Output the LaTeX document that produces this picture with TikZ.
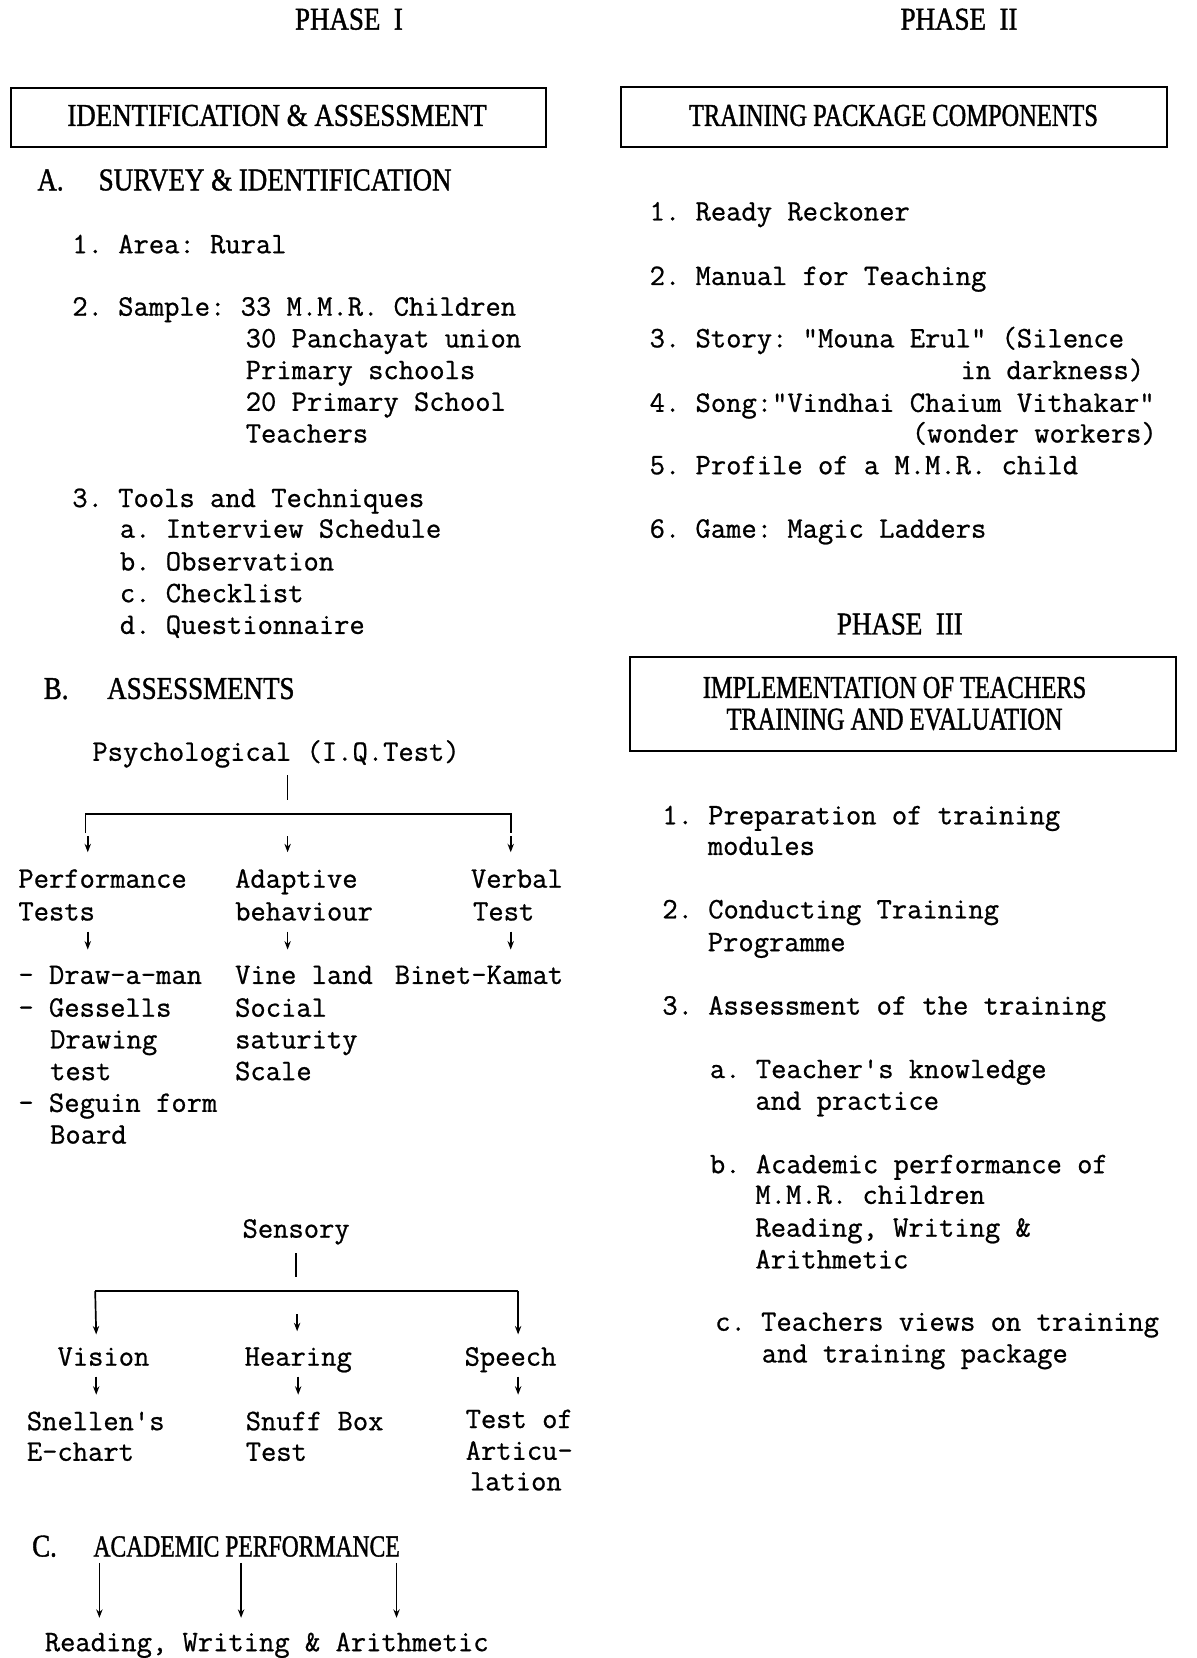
\documentclass[tikz,border=0pt]{standalone}
\usepackage{fontspec}
\usetikzlibrary{arrows.meta}
\newfontfamily\monof[FakeBold=0.8]{Latin Modern Mono}
\newfontfamily\hdf[FakeStretch=0.85,FakeBold=1.2]{Liberation Serif}
\newfontfamily\hdn[FakeStretch=0.77,FakeBold=1.2]{Liberation Serif}
\newcommand\Mt[4]{\node[mono] (#1) at (#2,#3) {#4};}
\newcommand\Hd[4]{\node[hd,anchor=base west] (#1) at (#2,#3) {#4};}
\frenchspacing
\begin{document}
\begin{tikzpicture}[x=0.5pt,y=-0.5pt,
  mono/.style={font=\monof\fontsize{14.05}{15}\selectfont\frenchspacing,inner sep=0pt,anchor=base west},
  hd/.style={font=\hdf\fontsize{15}{15}\selectfont,inner sep=0pt},
  hboxframe/.style={draw,line width=1pt,inner sep=0pt},
  ln/.style={line width=0.8pt},
  arr/.style={line width=0.8pt,-{Stealth[length=4pt,width=3pt]}}]
\useasboundingbox (0,0) rectangle (1132,1568);

% ---------- Headings ----------
\node[hd,anchor=base] (ph1) at (330,28) {PHASE\ \ I};
\node[hd,anchor=base] (ph2) at (907,28) {PHASE\ \ II};
\node[hd,anchor=base] (ph3) at (851,600) {PHASE\ \ III};

\node[hboxframe,minimum width=253pt,minimum height=28pt] (box1) at (263,111) {};
\node[hd,anchor=base] (box1t) at (262,119) {IDENTIFICATION \& ASSESSMENT};
\node[hboxframe,minimum width=258.5pt,minimum height=28.5pt] (box2) at (845.5,110.5) {};
\node[hd,anchor=base,font=\hdn\fontsize{15}{15}\selectfont] (box2t) at (845,119) {TRAINING PACKAGE COMPONENTS};
\node[hboxframe,minimum width=258pt,minimum height=44.5pt] (box3) at (854,665.5) {};
\node[hd,anchor=base,font=\hdn\fontsize{15}{15}\selectfont] (box3t) at (846,660) {IMPLEMENTATION OF TEACHERS};
\node[hd,anchor=base,font=\hdn\fontsize{15}{15}\selectfont] (box3u) at (846,690) {TRAINING AND EVALUATION};

% ---------- Phase I : A ----------
\Hd{ha}{35}{180}{A.}
\Hd{hat}{93}{180}{SURVEY \& IDENTIFICATION}
\Mt{a1}{68}{239.5}{1. Area: Rural}
\Mt{a2}{68}{298.5}{2. Sample: 33 M.M.R. Children}
\Mt{a2b}{232}{328.5}{30 Panchayat union}
\Mt{a2c}{232}{358.5}{Primary schools}
\Mt{a2d}{232}{388.5}{20 Primary School}
\Mt{a2e}{232}{418.5}{Teachers}
\Mt{a3}{68}{479.5}{3. Tools and Techniques}
\Mt{a3a}{113}{508.5}{a. Interview Schedule}
\Mt{a3b}{113}{539.5}{b. Observation}
\Mt{a3c}{113}{569.5}{c. Checklist}
\Mt{a3d}{113}{599.5}{d. Questionnaire}

% ---------- B ----------
\Hd{hb}{41}{661}{B.}
\Hd{hbt}{101}{661}{ASSESSMENTS}
\Mt{psy}{87}{719.5}{Psychological (I.Q.Test)}
\Mt{perf}{17}{839.5}{Performance}
\Mt{perf2}{17}{870.5}{Tests}
\Mt{adap}{222}{839.5}{Adaptive}
\Mt{adap2}{222}{870.5}{behaviour}
\Mt{verb}{445}{839.5}{Verbal}
\Mt{verb2}{447}{870.5}{Test}
\Mt{p1}{17}{930.5}{- Draw-a-man}
\Mt{p2}{17}{961.5}{- Gessells}
\Mt{p3}{47}{991.5}{Drawing}
\Mt{p4}{47}{1021.5}{test}
\Mt{p5}{17}{1051.5}{- Seguin form}
\Mt{p6}{47}{1081.5}{Board}
\Mt{v1}{222}{930.5}{Vine land}
\Mt{v2}{222}{961.5}{Social}
\Mt{v3}{222}{991.5}{saturity}
\Mt{v4}{222}{1021.5}{Scale}
\Mt{bk}{373}{930.5}{Binet-Kamat}

% psychological tree
\coordinate (ps0) at (272,733);
\coordinate (ps1) at (272,757);
\coordinate (pl0) at (81,788);
\coordinate (plc) at (81,770);
\coordinate (prc) at (483,770);
\coordinate (pr0) at (483,788);
\draw[ln] (ps0) -- (ps1);
\draw[ln] (pl0) -- (plc) -- (prc) -- (pr0);
\draw[arr] (83,791) -- (83,806);
\draw[arr] (272,791) -- (272,806);
\draw[arr] (483,791) -- (483,806);
\draw[arr] (83,881) -- (83,898);
\draw[arr] (272,881) -- (272,898);
\draw[arr] (483,881) -- (483,898);

% ---------- Sensory ----------
\Mt{sen}{229}{1170.5}{Sensory}
\Mt{vis}{54}{1291.5}{Vision}
\Mt{hea}{231}{1291.5}{Hearing}
\Mt{spe}{439}{1291.5}{Speech}
\Mt{s1}{25}{1352.5}{Snellen's}
\Mt{s2}{25}{1381.5}{E-chart}
\Mt{h1}{232}{1352.5}{Snuff Box}
\Mt{h2}{232}{1381.5}{Test}
\Mt{t1}{440}{1350.5}{Test of}
\Mt{t2}{440}{1380.5}{Articu-}
\Mt{t3}{444}{1409.5}{lation}

\coordinate (ss0) at (280,1185);
\coordinate (ss1) at (280,1208);
\coordinate (slc) at (90,1221);
\coordinate (src) at (490,1221);
\coordinate (slb) at (91,1262);
\coordinate (srb) at (490,1262);
\draw[ln] (ss0) -- (ss1);
\draw[ln] (slc) -- (src);
\draw[arr] (slc) -- (slb);
\draw[arr] (src) -- (srb);
\draw[arr] (281,1243) -- (281,1259);
\draw[arr] (91,1302) -- (91,1319);
\draw[arr] (282,1302) -- (282,1319);
\draw[arr] (490,1302) -- (490,1319);

% ---------- C ----------
\Hd{hc}{30}{1472}{C.}
\node[hd,anchor=base west,font=\hdn\fontsize{14.5}{15}\selectfont] (hct) at (88,1472) {ACADEMIC PERFORMANCE};
\Mt{rwa}{42}{1561.5}{Reading, Writing \& Arithmetic}
\draw[arr] (94,1478) -- (94,1530);
\draw[arr] (228,1478) -- (228,1530);
\draw[arr] (375,1478) -- (375,1530);

% ---------- Phase II ----------
\Mt{r1}{614}{208.5}{1. Ready Reckoner}
\Mt{r2}{614}{269.5}{2. Manual for Teaching}
\Mt{r3}{614}{328.5}{3. Story: "Mouna Erul" (Silence}
\Mt{r3b}{908}{358.5}{in darkness)}
\Mt{r4}{614}{389.5}{4. Song:"Vindhai Chaium Vithakar"}
\Mt{r4b}{862}{418.5}{(wonder workers)}
\Mt{r5}{614}{448.5}{5. Profile of a M.M.R. child}
\Mt{r6}{614}{508.5}{6. Game: Magic Ladders}

% ---------- Phase III ----------
\Mt{q1}{626}{779.5}{1. Preparation of training}
\Mt{q1b}{669}{808.5}{modules}
\Mt{q2}{626}{868.5}{2. Conducting Training}
\Mt{q2b}{669}{899.5}{Programme}
\Mt{q3}{626}{959.5}{3. Assessment of the training}
\Mt{qa}{671}{1019.5}{a. Teacher's knowledge}
\Mt{qa2}{714}{1049.5}{and practice}
\Mt{qb}{671}{1109.5}{b. Academic performance of}
\Mt{qb2}{714}{1138.5}{M.M.R. children}
\Mt{qb3}{714}{1169.5}{Reading, Writing \&}
\Mt{qb4}{714}{1199.5}{Arithmetic}
\Mt{qc}{676}{1258.5}{c. Teachers views on training}
\Mt{qc2}{720}{1288.5}{and training package}
\end{tikzpicture}
\end{document}
